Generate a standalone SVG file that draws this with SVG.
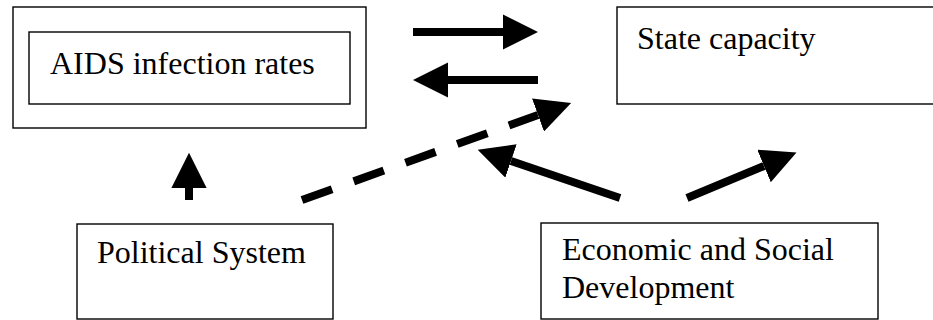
<svg xmlns="http://www.w3.org/2000/svg" width="933" height="320" viewBox="0 0 933 320">
<style>
.box{fill:#fff;stroke:#000;stroke-width:1.4}
.lbl{font-family:"Liberation Serif","Times New Roman",serif;font-size:32px;fill:#000}
.arr{stroke:#000;stroke-width:8;fill:none;marker-end:url(#head)}
.dash{stroke-dasharray:32 23}
</style>
<defs>
<marker id="head" viewBox="0 0 4.4 4.4" markerWidth="4.4" markerHeight="4.4" refX="0" refY="2.2" orient="auto">
<path d="M0,0 L4.4,2.2 L0,4.4 Z" fill="#000"/>
</marker>
</defs>
<rect width="933" height="320" fill="#fff"/>
<g id="aids">
<rect class="box" x="13" y="7" width="353" height="121"/>
<rect class="box" x="29" y="32" width="321" height="72"/>
<text class="lbl" x="50" y="74">AIDS infection rates</text>
</g>
<g id="state">
<rect class="box" x="617" y="7" width="330" height="97"/>
<text class="lbl" x="637" y="49">State capacity</text>
</g>
<g id="political">
<rect class="box" x="77" y="224" width="256" height="95"/>
<text class="lbl" x="97" y="263">Political System</text>
</g>
<g id="econ">
<rect class="box" x="541" y="223" width="337" height="96"/>
<text class="lbl" x="562" y="260">Economic and Social</text>
<text class="lbl" x="562" y="298">Development</text>
</g>
<g id="connectors">
<line class="arr" x1="413" y1="32" x2="503" y2="32"/>
<line class="arr" x1="538" y1="80" x2="448" y2="80"/>
<line class="arr dash" x1="302" y1="200" x2="538" y2="115"/>
<line class="arr" x1="620" y1="198" x2="511" y2="161"/>
<line class="arr" x1="687" y1="198" x2="764" y2="166"/>
<line class="arr" x1="189" y1="200" x2="189" y2="188"/>
</g>
</svg>
